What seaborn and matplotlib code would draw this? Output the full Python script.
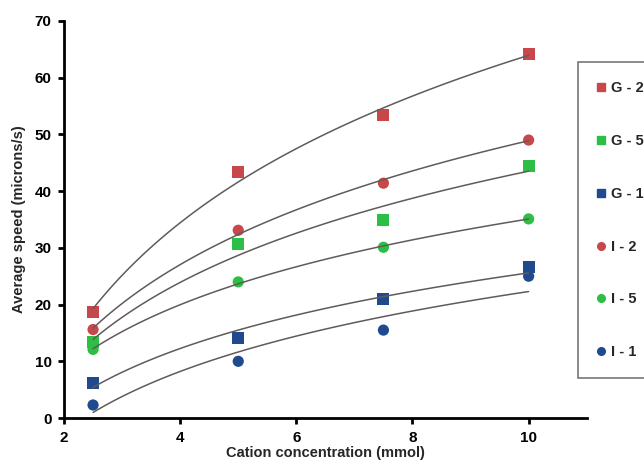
import matplotlib
matplotlib.use("Agg")
import matplotlib.pyplot as plt
import seaborn as sns
from matplotlib.lines import Line2D

# cation concentration (mmol) and average speed (microns/s) per series
conc = [2.5, 5, 7.5, 10]
g2 = [18.7, 43.3, 53.4, 64.1]
g5 = [13.4, 30.6, 34.9, 44.5]
g1 = [6.2, 14.1, 21.0, 26.6]
i2 = [15.6, 33.1, 41.4, 49.0]
i5 = [12.1, 24.0, 30.1, 35.1]
i1 = [2.3, 10.0, 15.5, 25.0]

labels = ['G - 2', 'G - 5', 'G - 1', 'I - 2', 'I - 5', 'I - 1']
series = [g2, g5, g1, i2, i5, i1]

RED, GREEN, BLUE = '#C8474A', '#2DBE45', '#1F4A8E'
colors = [RED, GREEN, BLUE, RED, GREEN, BLUE]
markers = ['s', 's', 's', 'o', 'o', 'o']
sizes = [75, 75, 75, 65, 65, 65]

sns.set_style("ticks")
plt.rcParams['font.family'] = ['Liberation Sans', 'DejaVu Sans']
plt.rcParams['font.weight'] = 'bold'

fig = plt.figure(figsize=(6.44, 4.65), dpi=100)
ax = fig.add_axes([0.0994, 0.101, 0.8116, 0.854])

for lab, vals, c, m, s in zip(labels, series, colors, markers, sizes):
    sns.scatterplot(x=conc, y=vals, ax=ax, color=c, marker=m, s=s,
                    edgecolor='none', zorder=2)
    # logarithmic trend line
    sns.regplot(x=conc, y=vals, ax=ax, logx=True, ci=None, scatter=False,
                line_kws={'color': '#625a5a', 'lw': 1.1, 'zorder': 3})

ax.set_xlim(2, 11)
ax.set_ylim(0, 70)
ax.set_xticks([2, 4, 6, 8, 10])
ax.set_yticks(range(0, 71, 10))
ax.tick_params(direction='out', length=4, width=2, labelsize=11,
               colors='black', pad=5)
for t in ax.get_xticklabels() + ax.get_yticklabels():
    t.set_fontweight('bold')
for sp in ['left', 'bottom']:
    ax.spines[sp].set_linewidth(2)
    ax.spines[sp].set_color('black')
sns.despine(ax=ax)
ax.set_xlabel('Cation concentration (mmol)', fontsize=10.5,
              fontweight='bold', labelpad=1)
ax.set_ylabel('Average speed (microns/s)', fontsize=10.5,
              fontweight='bold', labelpad=6)

handles = [Line2D([], [], ls='none', marker=m, color=c, markersize=5.5)
           for c, m in zip(colors, markers)]
leg = fig.legend(handles, labels, loc='upper left',
                 bbox_to_anchor=(0.8975, 0.866), frameon=True,
                 fancybox=False, labelspacing=2.66, handlelength=0.6,
                 handletextpad=0.35, borderpad=1.3, borderaxespad=0,
                 prop={'weight': 'bold', 'size': 10.5})
leg.get_frame().set_edgecolor('#555555')
leg.get_frame().set_linewidth(1.2)

fig.savefig('out.png', dpi=100)
